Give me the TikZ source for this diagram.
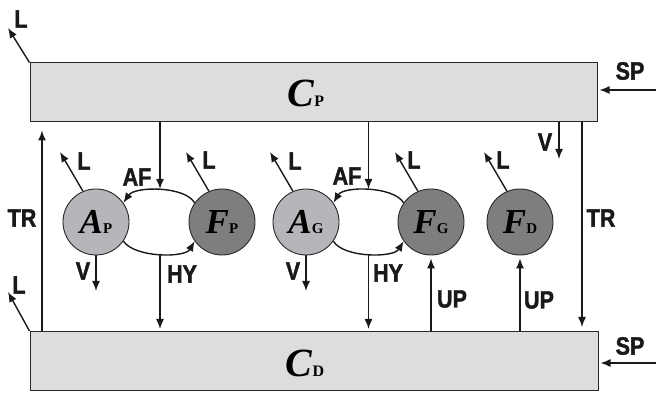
\documentclass[tikz,border=0pt]{standalone}
\usepackage{fontspec}
\setmainfont{Liberation Sans}
\newfontfamily\labfont[FakeStretch=0.86,FakeBold=1.6]{Liberation Sans Bold}
\newfontfamily\serfont{Liberation Serif}
\usetikzlibrary{arrows.meta}
\definecolor{boxgray}{RGB}{220,221,223}
\definecolor{agray}{RGB}{180,182,185}
\definecolor{fgray}{RGB}{125,126,128}
\definecolor{edgecol}{RGB}{40,40,40}
\newcommand{\poolsub}[1]{{\fontsize{15}{15}\selectfont\upshape #1}}
\newcommand{\boxsub}[1]{{\fontsize{16}{16}\selectfont\upshape #1}}
\begin{document}
\begin{tikzpicture}[x=1pt,y=-1pt,
  compbox/.style={draw=edgecol, line width=1pt, fill=boxgray, rectangle, inner sep=0pt, minimum height=59pt},
  pool/.style={circle, draw=edgecol, line width=0.9pt, minimum size=66pt, inner sep=0pt,
    font=\serfont\bfseries\itshape\fontsize{35}{35}\selectfont},
  apool/.style={pool, fill=agray},
  fpool/.style={pool, fill=fgray},
  arr/.style={line width=1.4pt, draw=black!90, -{Latex[length=10pt,width=8pt]}},
  lbl/.style={font=\labfont\fontsize{25}{25}\selectfont, inner sep=0pt, text=black!90},
  bigtxt/.style={font=\serfont\bfseries\itshape\fontsize{40}{40}\selectfont, inner sep=0pt},
]
\useasboundingbox (0,0) rectangle (656,395);

% compartments
\node[compbox, minimum width=567pt] (CP) at (313.5,92.5) {};
\node[compbox, minimum width=568pt] (CD) at (314,361) {};
\node[bigtxt] (CPt) at (306,93) {C\boxsub{P}};
\node[bigtxt] (CDt) at (305,363) {C\boxsub{D}};

% pools
\node[apool] (AP) at (96,222) {A\poolsub{P}};
\node[fpool] (FP) at (222,222) {F\poolsub{P}};
\node[apool] (AG) at (306,222) {A\poolsub{G}};
\node[fpool] (FG) at (431,222) {F\poolsub{G}};
\node[fpool] (FD) at (520,222) {F\poolsub{D}};

% corner losses
\coordinate (Ltl) at (8,28);
\draw[arr] (CP.north west) -- (Ltl);
\node[lbl] (LtlT) at (21,19) {L};
\coordinate (Lbl) at (8,292);
\draw[arr] (CD.north west) -- (Lbl);
\node[lbl] (LblT) at (19,285) {L};

% transport
\draw[arr, shorten >=8pt] (42,0 |- CD.north) -- (42,0 |- CP.south);
\node[lbl] (TRl) at (22,218) {TR};
\draw[arr, shorten >=4pt] (582,0 |- CP.south) -- (582,0 |- CD.north);
\node[lbl] (TRr) at (601,218) {TR};

% V from top compartment
\coordinate (Vtop) at (559,159);
\draw[arr] (559,0 |- CP.south) -- (Vtop);
\node[lbl] (VtopT) at (545,142) {V};

% supply
\coordinate (SPt) at (656,90);
\draw[arr, shorten >=2pt] (SPt) -- (SPt -| CP.east);
\node[lbl] (SPtT) at (630,71) {SP};
\coordinate (SPb) at (656,363);
\draw[arr, shorten >=2pt] (SPb) -- (SPb -| CD.east);
\node[lbl] (SPbT) at (630,346) {SP};

% P group
\coordinate (AFp) at (160,190);
\draw[arr, shorten >=1pt] (AFp |- CP.south) -- (AFp);
\draw[arr] (FP.145) .. controls (185,186) and (135,186) .. (AP.35);
\node[lbl] (AFpT) at (137,177) {AF};
\draw[arr] (AP.-35) .. controls (135,258) and (185,258) .. (FP.-145);
\coordinate (HYp) at (160,254);
\draw[arr, shorten >=2pt] (HYp) -- (HYp |- CD.north);
\node[lbl] (HYpT) at (182,274) {HY};
\coordinate (VAP) at (96,291);
\draw[arr] (AP.south) -- (VAP);
\node[lbl] (VAPT) at (83,271) {V};

% G group
\coordinate (AFg) at (368.5,190);
\draw[arr, shorten >=1pt] (AFg |- CP.south) -- (AFg);
\draw[arr] (FG.145) .. controls (393.5,186) and (343.5,186) .. (AG.35);
\node[lbl] (AFgT) at (347,176) {AF};
\draw[arr] (AG.-35) .. controls (343.5,258) and (393.5,258) .. (FG.-145);
\coordinate (HYg) at (368.5,254);
\draw[arr, shorten >=2pt] (HYg) -- (HYg |- CD.north);
\node[lbl] (HYgT) at (388,273) {HY};
\coordinate (VAG) at (306,291);
\draw[arr] (AG.south) -- (VAG);
\node[lbl] (VAGT) at (293,271) {V};

% uptake
\draw[arr, shorten >=3pt] (FG.south |- CD.north) -- (FG.south);
\node[lbl] (UPg) at (452,299) {UP};
\draw[arr, shorten >=3pt] (FD.south |- CD.north) -- (FD.south);
\node[lbl] (UPd) at (539,300) {UP};

% losses from pools
\coordinate (LAP) at (60,152);
\draw[arr] (AP.113) -- (LAP);
\node[lbl] (LAPT) at (84,161) {L};
\coordinate (LFP) at (186,152);
\draw[arr] (FP.113) -- (LFP);
\node[lbl] (LFPT) at (209,160) {L};
\coordinate (LAG) at (270,152);
\draw[arr] (AG.113) -- (LAG);
\node[lbl] (LAGT) at (295,161) {L};
\coordinate (LFG) at (395,152);
\draw[arr] (FG.113) -- (LFG);
\node[lbl] (LFGT) at (414,160) {L};
\coordinate (LFD) at (484,152);
\draw[arr] (FD.113) -- (LFD);
\node[lbl] (LFDT) at (503,160) {L};
\end{tikzpicture}
\end{document}
